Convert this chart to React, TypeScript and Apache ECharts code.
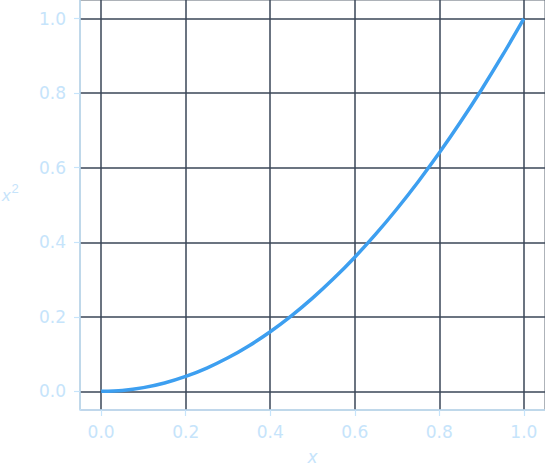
// x² 곡선 — 0..1 구간, 어두운 격자 위 파란 선.
import * as React from "react";
import * as echarts from "echarts";

const X_VALUES = [0, 0.05, 0.1, 0.15, 0.2, 0.25, 0.3, 0.35, 0.4, 0.45, 0.5, 0.55, 0.6, 0.65, 0.7, 0.75, 0.8, 0.85, 0.9, 0.95, 1.0];
const Y_VALUES = [0, 0.0025, 0.01, 0.0225, 0.04, 0.0625, 0.09, 0.1225, 0.16, 0.2025, 0.25, 0.3025, 0.36, 0.4225, 0.49, 0.5625, 0.64, 0.7225, 0.81, 0.9025, 1.0];
const X_TICKS = [0, 0.2, 0.4, 0.6, 0.8, 1.0];
const Y_TICKS = [0, 0.2, 0.4, 0.6, 0.8, 1.0];

const LABEL = "#c6e4fb";
const GRID = "#3a4657";
const LINE = "#3d9ff0";
const FONT = "DejaVu Sans, sans-serif";

export default function App() {
  const ref = React.useRef<HTMLDivElement | null>(null);

  React.useEffect(() => {
    if (!ref.current) return;
    const chart = echarts.init(ref.current, undefined, { renderer: "svg" });
    const axisCommon = {
      type: "value" as const,
      min: -0.05,
      max: 1.05,
      axisLine: { show: true, onZero: false, lineStyle: { color: LABEL, width: 1.5 } },
      axisTick: { show: true, length: 6, lineStyle: { color: LABEL, width: 1.2 } },
      splitLine: { show: true, lineStyle: { color: GRID, width: 1.5 } },
    };
    chart.setOption({
      animation: false,
      backgroundColor: "#ffffff",
      textStyle: { fontFamily: FONT },
      grid: {
        left: 80, right: 0, top: 0, bottom: 58,
        outerBoundsMode: "none", containLabel: false,
        show: true, borderColor: "#5c6673", borderWidth: 1, backgroundColor: "transparent",
      },
      xAxis: {
        ...axisCommon,
        axisTick: { ...axisCommon.axisTick, customValues: X_TICKS },
        axisLabel: {
          customValues: X_TICKS, color: LABEL, fontSize: 17, margin: 13,
          formatter: (v: number) => v.toFixed(1),
        },
        name: "x", nameLocation: "middle", nameGap: 38,
        nameTextStyle: { color: LABEL, fontSize: 17, fontStyle: "italic" },
      },
      yAxis: {
        ...axisCommon,
        axisTick: { ...axisCommon.axisTick, customValues: Y_TICKS },
        axisLabel: {
          customValues: Y_TICKS, color: LABEL, fontSize: 17, margin: 14,
          formatter: (v: number) => v.toFixed(1),
        },
      },
      graphic: [
        {
          type: "text", x: 2, y: 181,
          style: {
            text: "{x|x}{s|2}", fill: LABEL, fontFamily: FONT,
            rich: {
              x: { fontSize: 17, fontStyle: "italic", fill: LABEL, padding: [6, 0, 0, 0] },
              s: { fontSize: 13, fill: LABEL, padding: [0, 0, 8, 1] },
            },
          },
        },
      ],
      series: [
        {
          type: "line",
          data: X_VALUES.map((x, i) => [x, Y_VALUES[i]]),
          smooth: 0.3,
          showSymbol: false,
          lineStyle: { color: LINE, width: 3.5 },
          z: 5,
        },
      ],
    });
    return () => chart.dispose();
  }, []);

  return (
    <div
      ref={ref}
      style={{ position: "absolute", left: 0, top: 0, width: 545, height: 468 }}
      role="img"
      aria-label="x 제곱 곡선"
    />
  );
}
